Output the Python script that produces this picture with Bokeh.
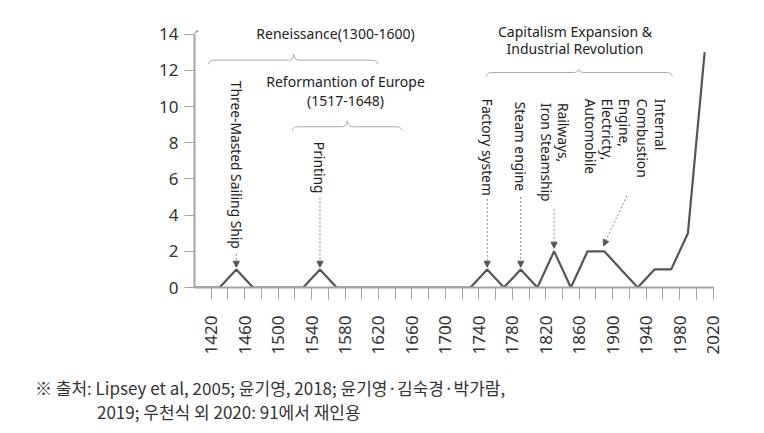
import numpy as np
from bokeh.plotting import figure
from bokeh.models import Range1d, FixedTicker, ColumnDataSource, Arrow, NormalHead, Div
from bokeh.layouts import column
from bokeh.core.properties import value
from bokeh.embed import file_html
from bokeh.resources import INLINE

# ---------------- data ----------------
years = [1400, 1410, 1430, 1450, 1470, 1490, 1510, 1530, 1550, 1570, 1590, 1610, 1630,
         1650, 1670, 1690, 1710, 1730, 1750, 1770, 1790, 1810, 1830, 1850, 1870, 1890,
         1910, 1930, 1950, 1970, 1990, 2010]
counts = [0, 0, 0, 1, 0, 0, 0, 0, 1, 0, 0, 0, 0,
          0, 0, 0, 0, 0, 1, 0, 1, 0, 2, 0, 2, 2,
          1, 0, 1, 1, 3, 13]

x_tick_labels = [1420, 1460, 1500, 1540, 1580, 1620, 1660, 1700, 1740, 1780, 1820,
                 1860, 1900, 1940, 1980, 2020]
x_minor_ticks = [1440, 1480, 1520, 1560, 1600, 1640, 1680, 1720, 1760, 1800, 1840,
                 1880, 1920, 1960, 2000]
y_tick_labels = [0, 2, 4, 6, 8, 10, 12, 14]

# rotated event label lines (year of line centre, top value)
event_texts = ["Three-Masted Sailing Ship", "Printing", "Factory system", "Steam engine",
               "Railways,", "Iron Steamship",
               "Internal", "Combustion", "Engine,", "Electricty,", "Automobile"]
event_x = [1450, 1550, 1750, 1790,
           1841.3, 1820.9,
           1957.3, 1935.7, 1914.2, 1893.9, 1873.5]
event_top = [11.42, 8.05, 10.43, 10.26,
             10.2, 10.2,
             10.43, 10.43, 10.43, 10.43, 10.43]

# dotted arrows
arrow_x0 = [1450, 1550, 1750, 1790, 1830, 1917]
arrow_y0 = [1.86, 4.97, 4.9, 5.0, 4.35, 5.07]
arrow_x1 = [1450, 1550, 1750, 1790, 1830, 1889]
arrow_y1 = [1.12, 1.12, 1.12, 1.12, 2.17, 2.3]

# period title lines
period_texts = ["Reneissance(1300-1600)", "Reformantion of Europe", "(1517-1648)",
                "Capitalism Expansion &", "Industrial Revolution"]
period_x = [1568.6, 1580.6, 1580.6, 1855, 1855]
period_y = [14.02, 11.36, 10.35, 14.14, 13.2]

# braces (start year, end year, tip year, level)
brace_x0 = [1416.8, 1517, 1749.2]
brace_x1 = [1618.8, 1648, 1971.2]
brace_tip = [1518.8, 1582.6, 1859.6]
brace_level = [12.56, 8.88, 11.88]

source_line1 = "※ 출처: Lipsey et al, 2005; 윤기영, 2018; 윤기영·김숙경·박가람,"
source_line2 = "2019; 우천식 외 2020: 91에서 재인용"

# ---------------- figure ----------------
PX_X = 0.8363   # px per year
PX_Y = 18.1     # px per unit
W, H = 748, 373
ML, MR, MT, MB = 194, 35, 10, 86
frame_w = W - ML - MR
frame_h = H - MT - MB

p = figure(width=W, height=H, output_backend="svg", toolbar_location=None,
           x_range=Range1d(1400, 1400 + frame_w / PX_X),
           y_range=Range1d(0, frame_h / PX_Y),
           min_border_left=ML, min_border_right=MR, min_border_top=MT, min_border_bottom=MB)
p.outline_line_color = None
p.grid.visible = False
p.background_fill_color = "white"
p.border_fill_color = "white"

font = value("Noto Sans")
axis_gray = "#a3a3a3"

p.xaxis.ticker = FixedTicker(ticks=x_tick_labels, minor_ticks=x_minor_ticks)
p.xaxis.bounds = (1400, 2020)
p.xaxis.axis_line_color = axis_gray
p.xaxis.axis_line_width = 2
p.xaxis.major_tick_line_color = axis_gray
p.xaxis.minor_tick_line_color = axis_gray
p.xaxis.major_tick_out = 12
p.xaxis.major_tick_in = 0
p.xaxis.minor_tick_out = 12
p.xaxis.minor_tick_in = 0
p.xaxis.major_label_orientation = np.pi / 2
p.xaxis.major_label_standoff = 16
p.xaxis.major_label_text_font = "Noto Sans"
p.xaxis.major_label_text_font_size = "17px"
p.xaxis.major_label_text_color = "#333333"

p.yaxis.ticker = FixedTicker(ticks=y_tick_labels)
p.yaxis.bounds = (0, 14)
p.yaxis.axis_line_color = axis_gray
p.yaxis.axis_line_width = 2
p.yaxis.major_tick_line_color = axis_gray
p.yaxis.major_tick_out = 10
p.yaxis.major_tick_in = 0
p.yaxis.minor_tick_line_color = None
p.yaxis.major_label_standoff = 6
p.yaxis.major_label_text_font = "Noto Sans"
p.yaxis.major_label_text_font_size = "17px"
p.yaxis.major_label_text_color = "#333333"

kx = 1.0 / PX_X
ky = 1.0 / PX_Y
t = np.linspace(0, np.pi / 2, 6)

# small curls at the axis ends
curl_x = [list(1400 + 4 * kx * (1 - np.cos(t))), list(2020 + 3 * kx * np.sin(t))]
curl_y = [list(14 + 3 * ky * np.sin(t)), list(0 + 4 * ky * (1 - np.cos(t)))]
p.multi_line(curl_x, curl_y, line_color=axis_gray, line_width=1.5)

# data line
p.line(years, counts, line_color="#555555", line_width=2.2)

# braces
def brace_path(x0, x1, tip, level, tip_px=6.0, end_px=4.0, r_px=5.0):
    xs, ys = [], []
    for a in t:
        xs.append(x0 + r_px * kx * (1 - np.cos(a)))
        ys.append(level - end_px * ky * (1 - np.sin(a)))
    for a in t:
        xs.append(tip - r_px * kx * (1 - np.sin(a)))
        ys.append(level + tip_px * ky * (1 - np.cos(a)))
    for a in t[::-1]:
        xs.append(tip + r_px * kx * (1 - np.sin(a)))
        ys.append(level + tip_px * ky * (1 - np.cos(a)))
    for a in t[::-1]:
        xs.append(x1 - r_px * kx * (1 - np.cos(a)))
        ys.append(level - end_px * ky * (1 - np.sin(a)))
    return xs, ys

tips = [6.0, 6.0, 3.0]
bx, by = [], []
for i in range(len(brace_x0)):
    xs, ys = brace_path(brace_x0[i], brace_x1[i], brace_tip[i], brace_level[i], tip_px=tips[i])
    bx.append(xs)
    by.append(ys)
p.multi_line(bx, by, line_color="#aaaaaa", line_width=1)

# period titles
p.text(x=period_x, y=period_y, text=period_texts, text_font=font, text_font_size="14px",
       text_color="#222222", text_align="center", text_baseline="middle")

# event labels (rotated)
p.text(x=event_x, y=event_top, text=event_texts, angle=-np.pi / 2, text_font=font,
       text_font_size="13.8px", text_color="#222222", text_align="left",
       text_baseline="middle")

# arrows
asrc = ColumnDataSource(dict(x0=arrow_x0, y0=arrow_y0, x1=arrow_x1, y1=arrow_y1))
p.add_layout(Arrow(end=NormalHead(size=6, fill_color="#555555", line_color="#555555",
                                  line_width=1),
                   x_start="x0", y_start="y0", x_end="x1", y_end="y1", source=asrc,
                   line_color="#888888", line_width=1, line_dash="2 2"))

src_div = Div(text=(f'<div style="font-family:\'Noto Sans CJK KR\';font-size:17px;'
                    f'color:#333;line-height:24px;white-space:nowrap;">'
                    f'<div style="padding-left:35px">{source_line1}</div>'
                    f'<div style="padding-left:97px">{source_line2}</div></div>'),
              width=W, height=55, margin=(3, 0, 0, 0))

layout = column(p, src_div, spacing=0)
open("out.html", "w").write(file_html(layout, INLINE))
